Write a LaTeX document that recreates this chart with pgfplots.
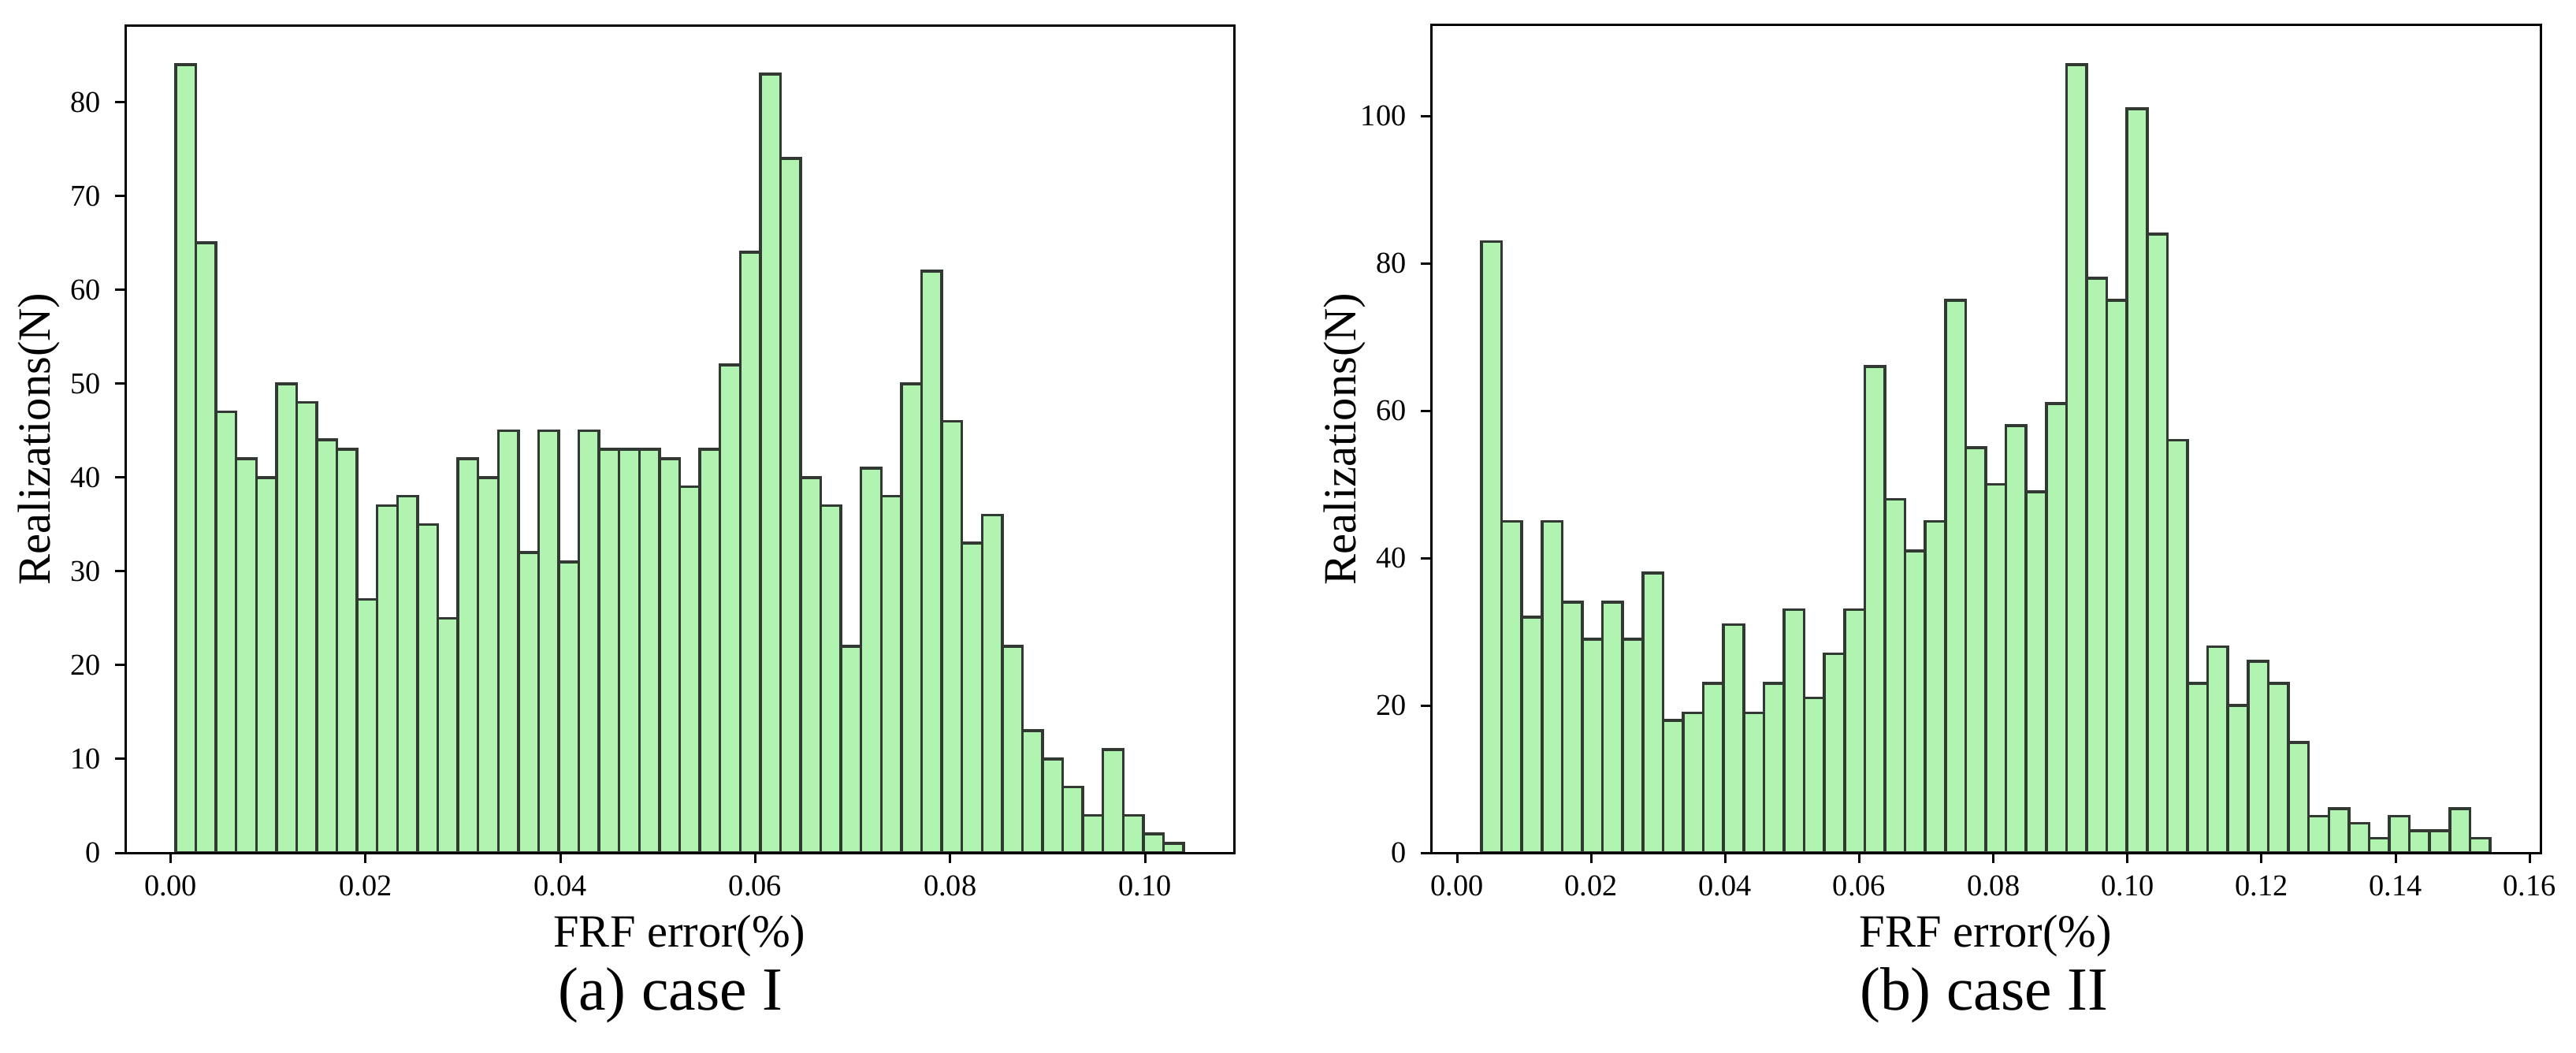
\documentclass[border=0pt]{standalone}
\usepackage{fontspec}
\setmainfont{Liberation Serif}
\usepackage{pgfplots}
\pgfplotsset{compat=1.18}
\definecolor{barfill}{RGB}{177,243,177}
\definecolor{baredge}{RGB}{50,56,50}
\pgfplotsset{histax/.style={
  scale only axis, height=315bp,
  axis on top,
  axis line style={line width=0.9bp, black},
  tick align=outside, tick pos=left,
  major tick length=3.9bp,
  major tick style={line width=0.9bp, black},
  scaled x ticks=false, scaled y ticks=false,
  /pgf/number format/assume math mode=true,
  ticklabel style={font=\fontsize{11.5bp}{13bp}\selectfont, inner sep=0pt},
  xticklabel shift=4.5bp, yticklabel shift=5.4bp,
  xticklabel style={/pgf/number format/fixed, /pgf/number format/fixed zerofill, /pgf/number format/precision=2},
  label style={font=\fontsize{17.55bp}{20bp}\selectfont, inner sep=0pt},
  xlabel style={at={(axis description cs:0.5,-0.114)}, anchor=base},
  ylabel style={at={(axis description cs:-0.068,0.5)}, anchor=base},
  title style={font=\fontsize{23.3bp}{26bp}\selectfont, anchor=base, inner sep=0pt},
  xlabel={FRF error(\%)}, ylabel={Realizations(N)},
  ymin=0,
}}
\begin{document}
\begin{tikzpicture}
\path[use as bounding box] (0,0) rectangle (980.7bp,400.8bp);
\begin{axis}[histax, at={(47.7bp,76.2bp)}, anchor=south west, width=422.1bp,
  xmin=-0.00466, xmax=0.10914, ymax=88.2,
  xtick={0,0.02,0.04,0.06,0.08,0.10}, ytick={0,10,20,30,40,50,60,70,80},
  title={(a) case I}, title style={at={(axis description cs:0.4917,-0.2086)}}]
\addplot[ybar interval, fill=barfill, draw=baredge, line width=1.05bp] coordinates {
(0.00051,84) (0.00258,65) (0.00465,47) (0.00672,42) (0.00879,40)
(0.01086,50) (0.01293,48) (0.01499,44) (0.01706,43) (0.01913,27)
(0.02120,37) (0.02327,38) (0.02534,35) (0.02741,25) (0.02948,42)
(0.03155,40) (0.03362,45) (0.03569,32) (0.03776,45) (0.03982,31)
(0.04189,45) (0.04396,43) (0.04603,43) (0.04810,43) (0.05017,42)
(0.05224,39) (0.05431,43) (0.05638,52) (0.05845,64) (0.06052,83)
(0.06259,74) (0.06466,40) (0.06672,37) (0.06879,22) (0.07086,41)
(0.07293,38) (0.07500,50) (0.07707,62) (0.07914,46) (0.08121,33)
(0.08328,36) (0.08535,22) (0.08742,13) (0.08949,10) (0.09155,7)
(0.09362,4) (0.09569,11) (0.09776,4) (0.09983,2) (0.10190,1)
(0.10397,1)};
\end{axis}
\begin{axis}[histax, at={(544.8bp,76.2bp)}, anchor=south west, width=422.4bp,
  xmin=-0.00388, xmax=0.16162, ymax=112.35,
  xtick={0,0.02,0.04,0.06,0.08,0.10,0.12,0.14,0.16}, ytick={0,20,40,60,80,100},
  title={(b) case II}, title style={at={(axis description cs:0.4983,-0.2086)}}]
\addplot[ybar interval, fill=barfill, draw=baredge, line width=1.05bp] coordinates {
(0.00364,83) (0.00665,45) (0.00966,32) (0.01267,45) (0.01568,34)
(0.01869,29) (0.02170,34) (0.02470,29) (0.02771,38) (0.03072,18)
(0.03373,19) (0.03674,23) (0.03975,31) (0.04276,19) (0.04577,23)
(0.04878,33) (0.05179,21) (0.05480,27) (0.05781,33) (0.06081,66)
(0.06382,48) (0.06683,41) (0.06984,45) (0.07285,75) (0.07586,55)
(0.07887,50) (0.08188,58) (0.08489,49) (0.08790,61) (0.09091,107)
(0.09392,78) (0.09693,75) (0.09993,101) (0.10294,84) (0.10595,56)
(0.10896,23) (0.11197,28) (0.11498,20) (0.11799,26) (0.12100,23)
(0.12401,15) (0.12702,5) (0.13003,6) (0.13304,4) (0.13604,2)
(0.13905,5) (0.14206,3) (0.14507,3) (0.14808,6) (0.15109,2)
(0.15410,2)};
\end{axis}
\end{tikzpicture}
\end{document}
